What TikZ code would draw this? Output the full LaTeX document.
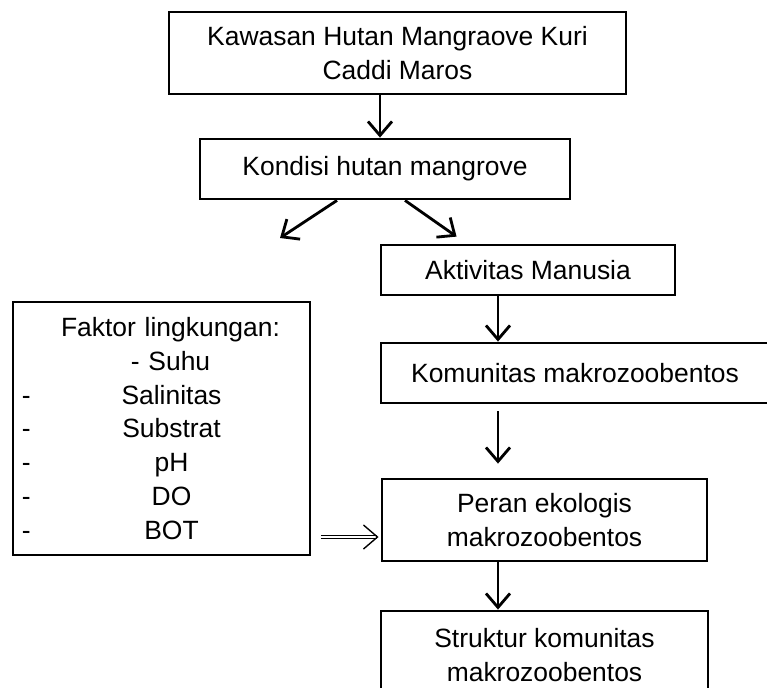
\documentclass[tikz,border=0pt]{standalone}
\usepackage{fontspec}
\setmainfont{Liberation Sans}
\usetikzlibrary{arrows.meta}
\newcommand{\tengah}[1]{\makebox[\linewidth][s]{\hfil\hspace*{0.45cm}#1\hfil}}
\newcommand{\butir}[1]{\makebox[\linewidth][s]{-\hfil\hspace*{0.28cm}#1\hfil}}

\begin{document}
\begin{tikzpicture}[x=0.025cm,y=-0.025cm,line width=2pt,
    kotak/.style={draw,align=center,inner sep=0pt,font=\fontsize{18.8}{24}\selectfont},
    >={Straight Barb[length=3.5mm,width=6mm]}]
    \useasboundingbox (0,0) rectangle (767,687);
    \node[kotak,minimum width=11.425cm,minimum height=2.05cm](kawasan) at (397.5,53){Kawasan Hutan Mangraove Kuri\\Caddi Maros};
    \node[kotak,minimum width=9.25cm,minimum height=1.5cm](kondisi) at (385,169){Kondisi hutan mangrove};
    \node[kotak,minimum width=7.35cm,minimum height=1.25cm](aktivitas) at (528,270){Aktivitas Manusia};
    \node[kotak,minimum width=9.7cm,minimum height=1.5cm](komunitas) at (575,373){Komunitas makrozoobentos};
    \node[kotak,minimum width=8.125cm,minimum height=2.05cm](peran) at (544.5,520){Peran ekologis\\makrozoobentos};
    \node[kotak,minimum width=8.175cm,minimum height=2.2cm](struktur) at (544.5,655){Struktur komunitas\\makrozoobentos};
    \node[kotak,minimum width=7.425cm,minimum height=6.325cm,text width=6.975cm](faktor) at (161.5,428.5){\tengah{Faktor lingkungan:}\\\tengah{- Suhu}\\\butir{Salinitas}\\\butir{Substrat}\\\butir{pH}\\\butir{DO}\\\butir{BOT}};
    \coordinate (kiri) at (280,238);
    \draw[->](380,0 |- kawasan.south)--(380,0 |- kondisi.north);
    \draw[->](337,0 |- kondisi.south)--(kiri);
    \draw[->](405,0 |- kondisi.south)--([shift={(77,-7)}]aktivitas.north west);
    \draw[->](498,0 |- aktivitas.south)--(498,0 |- komunitas.north);
    \draw[->,shorten <=0.175cm,shorten >=0.35cm](498,0 |- komunitas.south)--(498,0 |- peran.north);
    \draw[->](498,0 |- peran.south)--(498,0 |- struktur.north);
    \draw[->,double,line width=1pt,double distance=1pt,shorten <=0.25cm,shorten >=0.05cm](faktor.east |- 0,537)--(peran.west |- 0,537);
\end{tikzpicture}
\end{document}
